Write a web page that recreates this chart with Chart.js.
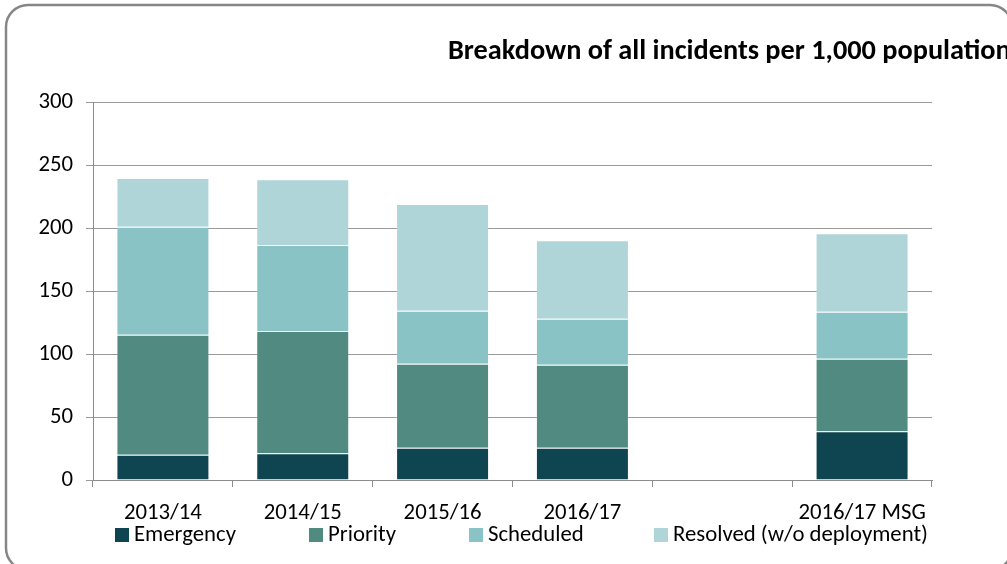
<!DOCTYPE html>
<html><head><meta charset="utf-8">
<script src="https://cdn.jsdelivr.net/npm/chart.js@4/dist/chart.umd.min.js"></script>
<style>html,body{margin:0;padding:0;background:#fff;overflow:hidden}canvas{display:block}</style>
</head><body><canvas id="c" width="1007" height="564"></canvas>
<script>
const categories = ['2013/14', '2014/15', '2015/16', '2016/17', '', '2016/17 MSG'];
const seriesNames = ['Emergency', 'Priority', 'Scheduled', 'Resolved (w/o deployment)'];
const emergency = [20.1, 21.2, 25.6, 25.6, null, 38.6];
const priority  = [95.2, 97.1, 66.7, 65.9, null, 57.7];
const scheduled = [85.7, 68.2, 42.1, 36.5, null, 37.3];
const resolved  = [38.7, 52.1, 84.6, 62.2, null, 62.2];
const yTicks = [0, 50, 100, 150, 200, 250, 300];
const titleText = 'Breakdown of all incidents per 1,000 population';
const colors = ['#0E4550', '#508A80', '#89C3C5', '#AFD5D8'];

const FAMILY = 'Carlito, Lato, "Open Sans", sans-serif';
function calib(text, targetW, weight) {
  const c = document.createElement('canvas').getContext('2d');
  c.font = (weight ? weight + ' ' : '') + '100px ' + FAMILY;
  return 100 * targetW / c.measureText(text).width;
}
const fs = calib('2013/14', 78);
const tfs = calib(titleText, 563, 'bold');
const legendX = [115, 309, 469, 654];

const decor = {
  id: 'decor',
  beforeDraw(chart) {
    const ctx = chart.ctx;
    ctx.save();
    ctx.fillStyle = '#fff';
    ctx.fillRect(0, 0, chart.width, chart.height);
    ctx.strokeStyle = '#868686';
    ctx.lineWidth = 2.5;
    ctx.beginPath();
    ctx.roundRect(6, 5, 1006, 565, 22);
    ctx.stroke();
    ctx.restore();
  },
  afterDraw(chart) {
    const ctx = chart.ctx;
    ctx.save();
    ctx.fillStyle = '#000';
    ctx.textBaseline = 'middle';
    ctx.textAlign = 'left';
    ctx.font = 'bold ' + tfs + 'px ' + FAMILY;
    ctx.fillText(titleText, 448, 52);
    ctx.font = fs + 'px ' + FAMILY;
    chart.data.datasets.forEach((ds, i) => {
      const x = legendX[i];
      ctx.fillStyle = ds.backgroundColor;
      ctx.fillRect(x, 528, 14, 14);
      ctx.fillStyle = '#000';
      ctx.fillText(ds.label, x + 19, 535);
    });
    ctx.restore();
  }
};

const seriesData = [emergency, priority, scheduled, resolved];
const datasets = seriesNames.map((name, i) => ({
  label: name,
  data: seriesData[i],
  backgroundColor: colors[i],
  borderColor: 'rgba(255,255,255,0.15)',
  borderWidth: 1,
  barPercentage: 0.665,
  categoryPercentage: 1.0
}));

new Chart(document.getElementById('c'), {
  type: 'bar',
  data: { labels: categories, datasets },
  plugins: [decor],
  options: {
    responsive: false,
    animation: false,
    layout: { padding: { left: 0, top: 102, right: 75, bottom: 44 } },
    plugins: { legend: { display: false }, title: { display: false }, tooltip: { enabled: false } },
    scales: {
      x: {
        stacked: true,
        grid: { display: true, drawOnChartArea: false, drawTicks: true, tickLength: 7, color: '#8c8c8c', offset: true },
        border: { color: '#8c8c8c' },
        ticks: { color: '#000', font: { family: FAMILY, size: fs }, padding: 13, maxRotation: 0, autoSkip: false },
        afterFit(s) { s.height = 40; }
      },
      y: {
        stacked: true,
        min: 0, max: 300,
        afterBuildTicks(s) { s.ticks = yTicks.map(v => ({ value: v })); },
        grid: { color: '#9a9a9a', tickLength: 7 },
        border: { color: '#8c8c8c' },
        ticks: { color: '#000', font: { family: FAMILY, size: fs }, padding: 13 },
        afterFit(s) { s.width = 93; }
      }
    }
  }
});
</script>
</body></html>
